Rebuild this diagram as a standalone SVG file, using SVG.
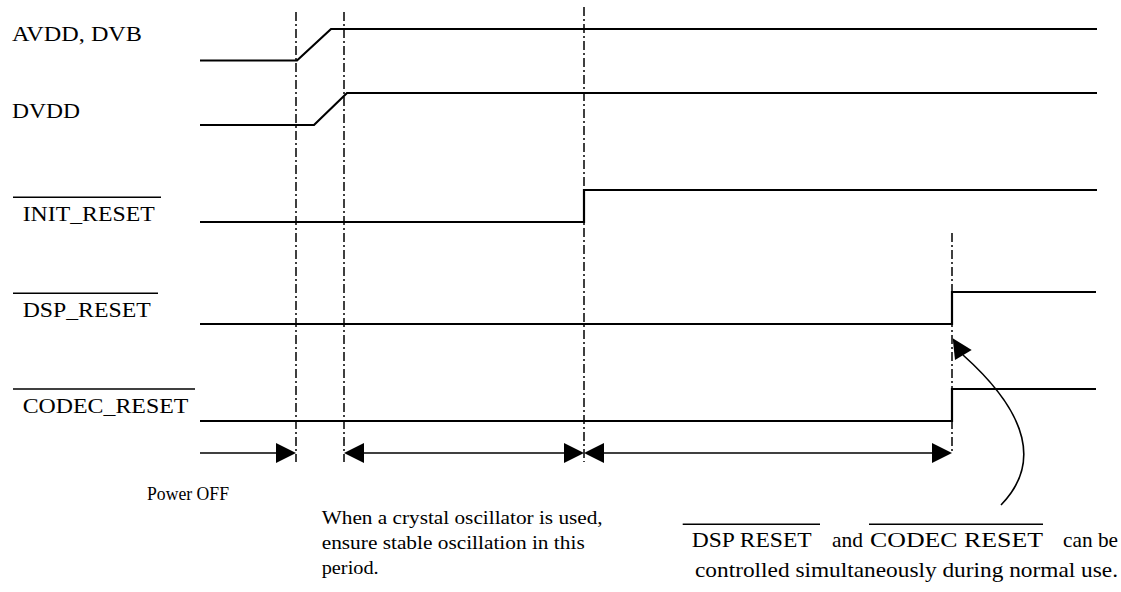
<svg xmlns="http://www.w3.org/2000/svg" width="1121" height="592" viewBox="0 0 1121 592">
<style>
.sig{fill:none;stroke:#000;stroke-width:2.2;stroke-linejoin:miter}
.dd{fill:none;stroke:#000;stroke-width:1.5;stroke-dasharray:9 3 2 3}
.ar{fill:none;stroke:#000;stroke-width:1.6}
.ol{stroke:#000;stroke-width:1.5}
.hd{fill:#000}
.lbl{font-family:"Liberation Serif","Times New Roman",serif;font-size:22px;fill:#000}
.note{font-family:"Liberation Serif","Times New Roman",serif;font-size:19px;fill:#000}
.note2{font-family:"Liberation Serif","Times New Roman",serif;font-size:21px;fill:#000}
</style>
<rect width="1121" height="592" fill="#fff"/>
<g id="guides">
<line class="dd" x1="296" y1="12" x2="296" y2="462"/>
<line class="dd" x1="344" y1="12" x2="344" y2="462"/>
<line class="dd" x1="584" y1="7" x2="584" y2="462"/>
<line class="dd" x1="952" y1="233" x2="952" y2="453"/>
</g>
<g id="sig-avdd">
<text class="lbl" x="12" y="40.5" textLength="130" lengthAdjust="spacingAndGlyphs">AVDD, DVB</text>
<polyline class="sig" points="200,60.5 297,60.5 331,29 1097,29"/>
</g>
<g id="sig-dvdd">
<text class="lbl" x="12" y="118" textLength="68" lengthAdjust="spacingAndGlyphs">DVDD</text>
<polyline class="sig" points="200,125 314,125 347,93 1097,93"/>
</g>
<g id="sig-init">
<line class="ol" x1="13" y1="197.3" x2="161" y2="197.3"/>
<text class="lbl" x="22.7" y="220.7" textLength="132" lengthAdjust="spacingAndGlyphs">INIT_RESET</text>
<polyline class="sig" points="200,222 584,222 584,190 1097,190"/>
</g>
<g id="sig-dsp">
<line class="ol" x1="13" y1="293.3" x2="158" y2="293.3"/>
<text class="lbl" x="22.7" y="316.7" textLength="128" lengthAdjust="spacingAndGlyphs">DSP_RESET</text>
<polyline class="sig" points="200,324 952,324 952,292 1096,292"/>
</g>
<g id="sig-codec">
<line class="ol" x1="13" y1="389" x2="195" y2="389"/>
<text class="lbl" x="22.7" y="412.7" textLength="165.6" lengthAdjust="spacingAndGlyphs">CODEC_RESET</text>
<polyline class="sig" points="200,421 952,421 952,389 1096,389"/>
</g>
<g id="connectors">
<line class="ar" x1="200" y1="453" x2="280" y2="453"/>
<polygon class="hd" points="296,453 276,443 276,463"/>
<line class="ar" x1="360" y1="453" x2="568" y2="453"/>
<polygon class="hd" points="344,453 364,443 364,463"/>
<polygon class="hd" points="584,453 564,443 564,463"/>
<line class="ar" x1="600" y1="453" x2="936" y2="453"/>
<polygon class="hd" points="584,453 604,443 604,463"/>
<polygon class="hd" points="952,453 932,443 932,463"/>
<path class="ar" d="M1001,505 C1040,465 1030,415 963,355"/>
<polygon class="hd" points="952.7,338.3 971.7,350 955,360"/>
</g>
<g id="note-poweroff">
<text class="note" x="147" y="500" font-size="17" textLength="82" lengthAdjust="spacingAndGlyphs">Power OFF</text>
</g>
<g id="note-crystal">
<text class="note" x="321.7" y="524" textLength="281" lengthAdjust="spacingAndGlyphs">When a crystal oscillator is used,</text>
<text class="note" x="321.7" y="549" textLength="263" lengthAdjust="spacingAndGlyphs">ensure stable oscillation in this</text>
<text class="note" x="321.7" y="574" textLength="57" lengthAdjust="spacingAndGlyphs">period.</text>
</g>
<g id="note-reset">
<line class="ol" x1="682.7" y1="524.3" x2="820" y2="524.3"/>
<line class="ol" x1="869" y1="524.3" x2="1043" y2="524.3"/>
<text class="note2" x="691.7" y="546.7" textLength="120" lengthAdjust="spacingAndGlyphs">DSP RESET</text>
<text class="note2" x="832" y="546.7" textLength="31" lengthAdjust="spacingAndGlyphs">and</text>
<text class="note2" x="870" y="546.7" textLength="173" lengthAdjust="spacingAndGlyphs">CODEC RESET</text>
<text class="note2" x="1063" y="546.7" textLength="55" lengthAdjust="spacingAndGlyphs">can be</text>
<text class="note2" x="695" y="577" textLength="423" lengthAdjust="spacingAndGlyphs">controlled simultaneously during normal use.</text>
</g>
</svg>
